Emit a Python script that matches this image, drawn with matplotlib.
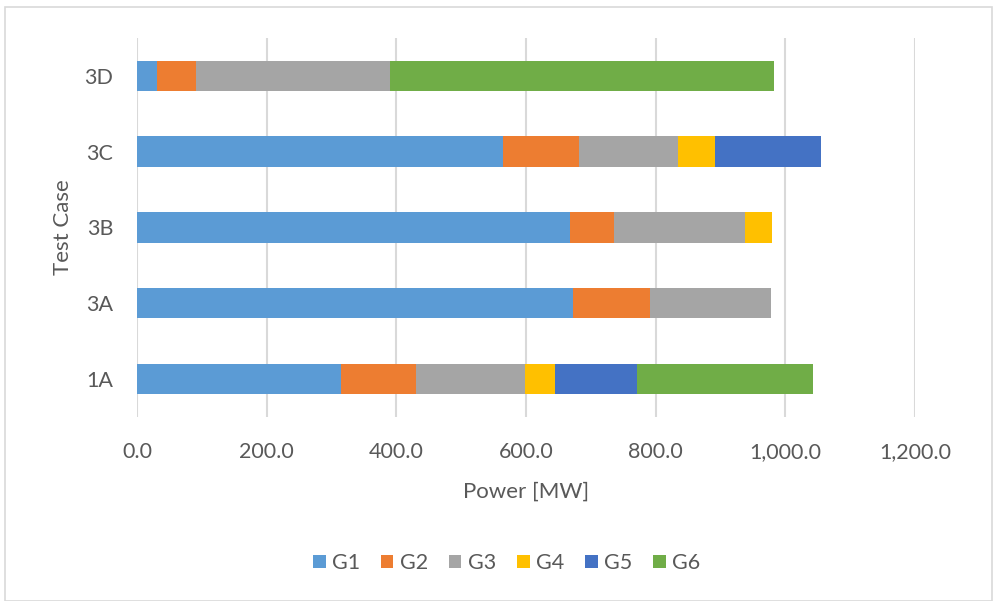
import numpy as np
import matplotlib
matplotlib.use("Agg")
import matplotlib.pyplot as plt
from matplotlib.ticker import FuncFormatter
from matplotlib.patches import Rectangle

cases = ["1A", "3A", "3B", "3C", "3D"]
gens = ["G1", "G2", "G3", "G4", "G5", "G6"]
colors = ["#5B9BD5", "#ED7D31", "#A5A5A5", "#FFC000", "#4472C4", "#70AD47"]

# MW per generator, one list per generator, ordered like `cases`
g1 = [314, 673, 668, 565, 31]
g2 = [116, 118, 68, 116, 60]
g3 = [169, 187, 201, 153, 299]
g4 = [45, 0, 43, 57, 0]
g5 = [127, 0, 0, 164, 0]
g6 = [272, 0, 0, 0, 592]
series = [g1, g2, g3, g4, g5, g6]

plt.rcParams["font.family"] = ["Lato", "DejaVu Sans"]
txt = "#595959"

fig = plt.figure(figsize=(9.93, 6.01), dpi=100)
ax = fig.add_axes([0.138, 0.306, 0.7835, 0.631])

y = np.arange(len(cases))
left = np.zeros(len(cases))
for name, vals, col in zip(gens, series, colors):
    vals = np.array(vals, dtype=float)
    ax.barh(y, vals, left=left, height=0.4, color=col, label=name, zorder=3)
    left += vals

ax.set_xlim(0, 1200)
ax.set_ylim(-0.5, len(cases) - 0.5)
ax.set_xticks(np.arange(0, 1201, 200))
ax.xaxis.set_major_formatter(FuncFormatter(lambda v, p: f"{v:,.1f}"))
ax.set_yticks(y)
ax.set_yticklabels(cases)
ax.grid(axis="x", color="#D9D9D9", lw=1.5, zorder=0)
for s in ax.spines.values():
    s.set_visible(False)
ax.tick_params(length=0, labelsize=15.5, colors=txt)
ax.tick_params(axis="x", pad=18)
ax.tick_params(axis="y", pad=17)
ax.set_xlabel("Power [MW]", fontsize=16, color=txt, labelpad=14)
ax.set_ylabel("Test Case", fontsize=16, color=txt, labelpad=8)

leg = fig.legend(loc="center", bbox_to_anchor=(0.51, 0.063), ncol=6, frameon=False,
                 fontsize=15.5, handlelength=0.6, handleheight=0.6, handletextpad=0.3,
                 columnspacing=0.95)
for t in leg.get_texts():
    t.set_color(txt)

# chart-area border
fig.patches.append(Rectangle((0.005, 0.0), 0.994, 0.988, transform=fig.transFigure,
                             fill=False, edgecolor="#D9D9D9", lw=1.2))

fig.savefig("out.png", dpi=100)
